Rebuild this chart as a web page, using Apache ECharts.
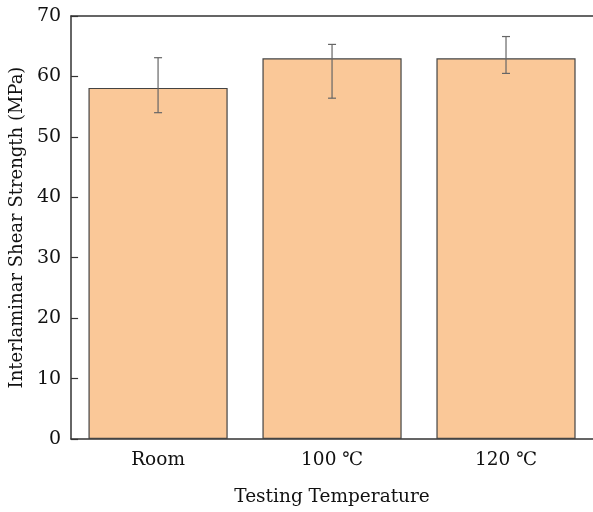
<!DOCTYPE html>
<html>
<head>
<meta charset="utf-8">
<script src="https://cdn.jsdelivr.net/npm/echarts@6/dist/echarts.min.js"></script>
<style>html,body{margin:0;padding:0;background:#fff;}#c{width:593px;height:512px;}</style>
</head>
<body>
<div id="c"></div>
<script>
var categories = ['Room', '100 \u2103', '120 \u2103'];
var values = [58.1, 63.0, 63.0];
var errLow = [54.0, 56.4, 60.5];
var errHigh = [63.1, 65.3, 66.6];
var yTicks = [0, 10, 20, 30, 40, 50, 60, 70];

var FONT = 'DejaVu Serif';
var chart = echarts.init(document.getElementById('c'), null, {renderer: 'canvas'});
var errData = categories.map(function (c, i) { return [i, errLow[i], errHigh[i]]; });

chart.setOption({
  animation: false,
  backgroundColor: '#fff',
  grid: {left: 69, right: -1, top: 16, bottom: 73, containLabel: false},
  xAxis: [{
    type: 'category',
    data: categories,
    name: 'Testing Temperature',
    nameLocation: 'middle',
    nameGap: 49,
    nameTextStyle: {fontFamily: FONT, fontSize: 18.5, color: '#111', verticalAlign: 'top'},
    axisLine: {lineStyle: {color: '#333', width: 1.5}},
    axisTick: {inside: true, alignWithLabel: true, length: 8, lineStyle: {color: '#333', width: 1.2}},
    axisLabel: {fontFamily: FONT, fontSize: 18.5, color: '#111', margin: 12}
  }, {
    type: 'category',
    position: 'top',
    data: categories,
    axisLine: {show: true, lineStyle: {color: '#333', width: 1.5}},
    axisTick: {show: false},
    axisLabel: {show: false}
  }],
  yAxis: {
    type: 'value',
    min: yTicks[0],
    max: yTicks[yTicks.length - 1],
    interval: 10,
    name: 'Interlaminar Shear Strength (MPa)',
    nameLocation: 'middle',
    nameGap: 34,
    nameTextStyle: {fontFamily: FONT, fontSize: 18, color: '#111'},
    axisLine: {show: true, lineStyle: {color: '#333', width: 1.5}},
    axisTick: {show: true, inside: true, length: 7, lineStyle: {color: '#333', width: 1.2}},
    axisLabel: {fontFamily: FONT, fontSize: 19, color: '#111', margin: 10},
    splitLine: {show: false}
  },
  series: [{
    type: 'bar',
    data: values,
    barWidth: '80%',
    itemStyle: {color: '#FAC898', borderColor: '#444', borderWidth: 1.2}
  }, {
    type: 'custom',
    data: errData,
    z: 10,
    renderItem: function (params, api) {
      var x = api.value(0);
      var lo = api.coord([x, api.value(1)]);
      var hi = api.coord([x, api.value(2)]);
      var w = 4;
      var st = {stroke: '#666', lineWidth: 1.2};
      return {
        type: 'group',
        children: [
          {type: 'line', shape: {x1: lo[0], y1: lo[1], x2: hi[0], y2: hi[1]}, style: st},
          {type: 'line', shape: {x1: lo[0] - w, y1: lo[1], x2: lo[0] + w, y2: lo[1]}, style: st},
          {type: 'line', shape: {x1: hi[0] - w, y1: hi[1], x2: hi[0] + w, y2: hi[1]}, style: st}
        ]
      };
    }
  }]
});
</script>
</body>
</html>
